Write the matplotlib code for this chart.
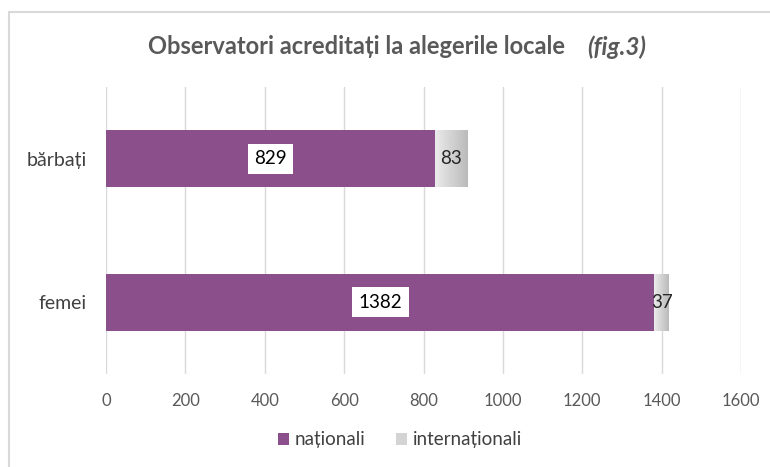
import matplotlib
matplotlib.use("Agg")
import matplotlib.pyplot as plt
import numpy as np
from matplotlib.patches import Rectangle, Patch
from matplotlib.colors import LinearSegmentedColormap

plt.rcParams['font.family'] = ['Lato', 'DejaVu Sans']

categories = ['femei', 'bărbați']
nationali = [1382, 829]
internationali = [37, 83]
series_names = ['naționali', 'internaționali']
xticks = [0, 200, 400, 600, 800, 1000, 1200, 1400, 1600]

purple = '#8B4F8B'
fig = plt.figure(figsize=(7.7, 4.67), dpi=100)
ax = fig.add_axes([106/770, 1-374/467, 635/770, 287/467])

y = np.arange(len(categories))
b1 = ax.barh(y, nationali, height=0.4, color=purple, zorder=2)
b2 = ax.barh(y, internationali, left=nationali, height=0.4, color='none', zorder=2)

grad = np.linspace(0, 1, 256).reshape(1, -1)
cmap = LinearSegmentedColormap.from_list('g', ['#EBEBEB', '#BABABA'])
for rect in b2:
    x0, y0 = rect.get_x(), rect.get_y()
    w, h = rect.get_width(), rect.get_height()
    im = ax.imshow(grad, extent=[x0, x0 + w, y0, y0 + h], aspect='auto',
                   cmap=cmap, zorder=2.5, interpolation='bicubic')
    im.set_clip_path(rect)

ax.set_xlim(0, 1600)
ax.set_ylim(-0.5, 1.5)
ax.set_xticks(xticks)
ax.set_xticklabels([str(t) for t in xticks], fontsize=12, color='#595959')
ax.set_yticks(y)
ax.set_yticklabels(categories, fontsize=14, color='#404040')
ax.tick_params(axis='both', length=0)
ax.tick_params(axis='x', pad=14)
ax.tick_params(axis='y', pad=14)
ax.grid(axis='x', color='#D9D9D9', lw=1, zorder=0)
for s in ax.spines.values():
    s.set_visible(False)
ax.set_axisbelow(True)

for i in range(len(categories)):
    ax.text(nationali[i] / 2, y[i], str(nationali[i]), ha='center', va='center',
            fontsize=13.5, color='#000000', zorder=5,
            bbox=dict(boxstyle='square,pad=0.35', fc='white', ec='none'))
    ax.text(nationali[i] + internationali[i] / 2, y[i], str(internationali[i]),
            ha='center', va='center', fontsize=13.5, color='#262626', zorder=5)

fig.text(148/770, 1-47/467, 'Observatori acreditați la alegerile locale', ha='left',
         va='center', fontsize=17, fontweight='bold', color='#595959')
fig.text(646/770, 1-47/467, '(fig.3)', ha='right', va='center', fontsize=17.5,
         fontweight='bold', fontstyle='italic', color='#595959')

handles = [Patch(facecolor=purple), Patch(facecolor='#D4D4D4')]
leg = fig.legend(handles, series_names, loc='center', bbox_to_anchor=(400/770, 1-440/467),
                 ncol=2, frameon=False, fontsize=13.5, handlelength=0.6, handleheight=0.6,
                 handletextpad=0.3, columnspacing=1.6)
for t in leg.get_texts():
    t.set_color('#404040')

fig.patches.append(Rectangle((9/770, -0.1), 2, 1 - 12/467 + 0.1, transform=fig.transFigure,
                             fill=False, ec='#D9D9D9', lw=1.5))

fig.savefig('out.png', dpi=100)
